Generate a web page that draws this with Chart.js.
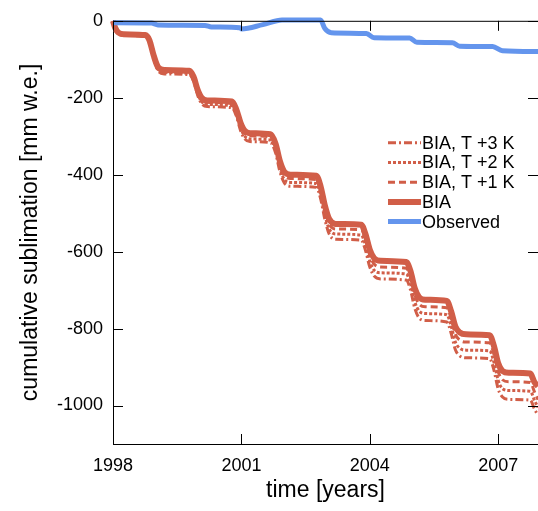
<!DOCTYPE html>
<html>
<head>
<meta charset="utf-8">
<script src="https://cdn.jsdelivr.net/npm/chart.js@4/dist/chart.umd.min.js"></script>
<style>
  html, body { margin: 0; padding: 0; background: #fff; }
  canvas { display: block; }
</style>
</head>
<body>
<canvas id="sublimation-chart" width="538" height="511"></canvas>
<script>
// time axis of the model runs [years]
const years = [1998.00, 1998.05, 1998.12, 1998.25, 1998.75, 1998.85, 1998.95, 1999.05, 1999.20, 1999.78,
  1999.88, 1999.98, 2000.07, 2000.20, 2000.78, 2000.88, 2000.98, 2001.07, 2001.20, 2001.68,
  2001.80, 2001.90, 2002.00, 2002.15, 2002.75, 2002.85, 2002.95, 2003.05, 2003.20, 2003.80,
  2003.90, 2004.00, 2004.10, 2004.25, 2004.85, 2004.95, 2005.05, 2005.15, 2005.30, 2005.80,
  2005.90, 2006.00, 2006.10, 2006.25, 2006.80, 2006.90, 2007.00, 2007.10, 2007.25, 2007.75,
  2007.85, 2007.93];

// cumulative sublimation [mm w.e.]
const bia = [0, -18, -30, -35, -37, -50, -90, -120, -128, -130,
  -145, -180, -200, -207, -210, -230, -265, -285, -292, -295,
  -320, -365, -392, -400, -403, -430, -480, -515, -528, -530,
  -555, -595, -617, -624, -627, -650, -695, -718, -725, -728,
  -755, -795, -810, -815, -817, -845, -890, -910, -915, -917,
  -940, -950];

const biaT1 = [0, -18, -31, -36, -38, -51, -92, -123, -131, -133,
  -149, -185, -205, -212, -215, -236, -272, -292, -299, -302,
  -328, -374, -402, -410, -413, -441, -492, -528, -541, -543,
  -569, -610, -632, -640, -643, -666, -712, -736, -743, -746,
  -774, -815, -830, -835, -837, -866, -912, -933, -938, -940,
  -965, -985];

const biaT2 = [0, -19, -32, -37, -39, -53, -95, -126, -134, -137,
  -152, -189, -210, -217, -221, -242, -278, -299, -307, -310,
  -336, -383, -412, -420, -423, -452, -504, -541, -554, -557,
  -583, -625, -648, -655, -658, -683, -730, -754, -761, -764,
  -793, -835, -851, -856, -858, -887, -935, -956, -961, -963,
  -987, -1005];

const biaT3 = [0, -19, -32, -38, -40, -54, -97, -129, -138, -140,
  -156, -194, -215, -223, -226, -247, -285, -306, -314, -317,
  -344, -392, -421, -430, -433, -462, -516, -554, -568, -570,
  -597, -640, -663, -671, -674, -699, -747, -772, -779, -783,
  -812, -855, -871, -876, -878, -908, -957, -978, -984, -986,
  -1010, -1025];

const obsYears = [1998.00, 1998.90, 1999.05, 2000.15, 2000.30, 2000.97, 2001.00, 2001.50, 2001.95, 2002.85,
  2002.95, 2003.10, 2003.92, 2004.10, 2004.93, 2005.10, 2005.93, 2006.10, 2006.87, 2007.10, 2007.93];
const observed = [-5, -6, -11, -12, -16, -18, -21, -10, 2, 2,
  -20, -31, -33, -44, -45, -56, -57, -66, -67, -78, -80];

const xTicks = [1998, 2001, 2004, 2007];
const yTicks = [0, -200, -400, -600, -800, -1000];

const RED = '#d15e48';
const BLUE = '#6495ed';
const FONT = 'Liberation Sans, Arial, Helvetica, sans-serif';

const toPoints = (xs, ys) => xs.map((x, i) => ({ x: x, y: ys[i] }));

// gnuplot style: ticks point inward, mirrored on top and right, plus top border
const innerTicks = {
  id: 'innerTicks',
  afterDraw(chart) {
    const { ctx, chartArea } = chart;
    const { left, right, top, bottom } = chartArea;
    const len = 10;
    ctx.save();
    ctx.strokeStyle = '#000';
    ctx.lineWidth = 1;
    ctx.beginPath();
    ctx.moveTo(left, top + 0.5);
    ctx.lineTo(right, top + 0.5);
    chart.scales.x.ticks.forEach(t => {
      const px = Math.round(chart.scales.x.getPixelForValue(t.value)) + 0.5;
      ctx.moveTo(px, bottom);
      ctx.lineTo(px, bottom - len);
      ctx.moveTo(px, top);
      ctx.lineTo(px, top + len);
    });
    chart.scales.y.ticks.forEach(t => {
      const py = Math.round(chart.scales.y.getPixelForValue(t.value)) + 0.5;
      ctx.moveTo(left, py);
      ctx.lineTo(left + len, py);
      ctx.moveTo(right, py);
      ctx.lineTo(right - len, py);
    });
    ctx.stroke();
    ctx.restore();
  }
};

// key inside the plot, reversed order like the original
const insideKey = {
  id: 'insideKey',
  afterDraw(chart) {
    const { ctx, chartArea } = chart;
    const x0 = chartArea.right - 150;
    const x1 = chartArea.right - 117;
    let y = chartArea.top + 122;
    ctx.save();
    ctx.font = '18px ' + FONT;
    ctx.textBaseline = 'middle';
    ctx.fillStyle = '#000';
    const sets = chart.data.datasets.slice().reverse();
    sets.forEach(ds => {
      ctx.strokeStyle = ds.borderColor;
      ctx.lineWidth = ds.borderWidth;
      ctx.setLineDash(ds.borderDash || []);
      ctx.beginPath();
      ctx.moveTo(x0, y);
      ctx.lineTo(x1, y);
      ctx.stroke();
      ctx.fillText(ds.label, x1 + 1, y + 1);
      y += 19.7;
    });
    ctx.restore();
  }
};

const lineDefaults = {
  pointRadius: 0,
  fill: false,
  cubicInterpolationMode: 'monotone',
  clip: 6
};

new Chart(document.getElementById('sublimation-chart'), {
  type: 'line',
  data: {
    datasets: [
      Object.assign({ label: 'Observed', data: toPoints(obsYears, observed), borderColor: BLUE, borderWidth: 5 }, lineDefaults),
      Object.assign({ label: 'BIA', data: toPoints(years, bia), borderColor: RED, borderWidth: 6 }, lineDefaults),
      Object.assign({ label: 'BIA, T +1 K', data: toPoints(years, biaT1), borderColor: RED, borderWidth: 3, borderDash: [7, 4] }, lineDefaults),
      Object.assign({ label: 'BIA, T +2 K', data: toPoints(years, biaT2), borderColor: RED, borderWidth: 3, borderDash: [3, 2] }, lineDefaults),
      Object.assign({ label: 'BIA, T +3 K', data: toPoints(years, biaT3), borderColor: RED, borderWidth: 3, borderDash: [8, 3, 2, 3] }, lineDefaults)
    ]
  },
  options: {
    responsive: false,
    animation: false,
    layout: { padding: { top: 19, right: 0, left: 0, bottom: 0 } },
    plugins: {
      legend: { display: false },
      tooltip: { enabled: false }
    },
    scales: {
      x: {
        type: 'linear',
        min: 1998,
        max: 2007.93,
        afterFit: s => { s.height = 67; },
        afterBuildTicks: s => { s.ticks = xTicks.map(v => ({ value: v })); },
        grid: { display: false, drawTicks: false },
        border: { display: true, color: '#000', width: 1 },
        ticks: { color: '#000', padding: 11, font: { family: FONT, size: 18 }, maxRotation: 0, callback: v => String(v) },
        title: { display: true, text: 'time [years]', color: '#000', font: { family: FONT, size: 23, lineHeight: 1.39 } }
      },
      y: {
        type: 'linear',
        min: -1100,
        max: 0,
        afterFit: s => { s.width = 113; },
        afterBuildTicks: s => { s.ticks = yTicks.map(v => ({ value: v })); },
        grid: { display: false, drawTicks: false },
        border: { display: true, color: '#000', width: 1 },
        ticks: { color: '#000', padding: 10, font: { family: FONT, size: 18 }, callback: v => String(v) },
        title: { display: true, text: 'cumulative sublimation [mm w.e.]', color: '#000', font: { family: FONT, size: 23, lineHeight: 2.35 } }
      }
    }
  },
  plugins: [innerTicks, insideKey]
});
</script>
</body>
</html>
